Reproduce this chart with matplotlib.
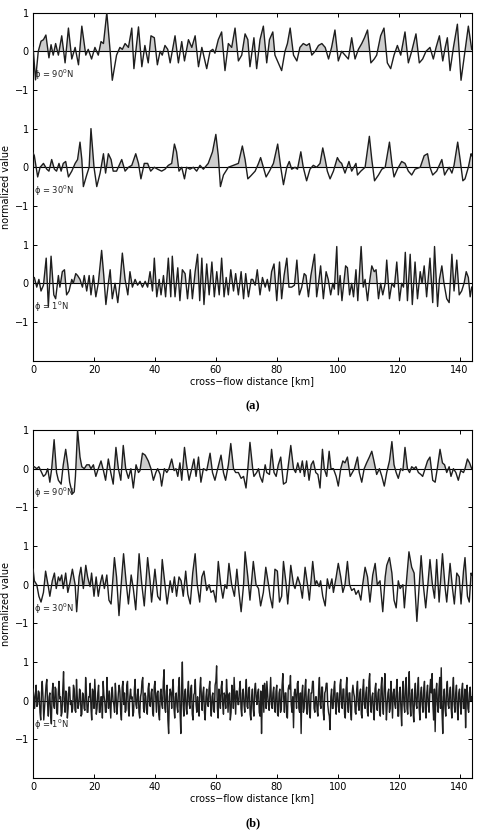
import numpy as np
import matplotlib
matplotlib.use("Agg")
import matplotlib.pyplot as plt

# ---------------- data ----------------
# panel (a), phi = 90N
a90_km = [0, 0.8, 1.7, 2.6, 3.4, 4.2, 5.2, 5.9, 6.6, 7.4, 8.3, 9.4, 10.5, 11.6, 12.7, 13.8, 14.9, 16.0, 17.3, 18.1,
          19.2, 20.3, 21.4, 22.3, 23.1, 24.2, 25.3, 26.0, 27.4, 28.5, 29.3, 30.2, 31.3, 32.4, 33.1, 34.6, 35.7, 36.7,
          37.8, 38.7, 39.8, 40.8, 41.7, 42.4, 43.3, 44.2, 45.0, 46.6, 47.7, 48.8, 49.7, 51.0, 52.1, 53.2, 54.3, 55.4,
          57.0, 58.1, 59.0, 59.7, 60.8, 61.9, 63.0, 64.1, 65.2, 66.3, 67.4, 68.5, 69.6, 70.5, 71.2, 72.5, 73.4, 74.5,
          75.6, 76.7, 77.6, 78.7, 79.4, 80.5, 81.6, 82.7, 83.5, 84.4, 85.5, 86.6, 87.6, 88.7, 89.8, 90.7, 91.5, 92.6,
          93.7, 94.8, 95.9, 97.0, 98.0, 99.1, 100.2, 101.3, 102.4, 103.5, 104.6, 105.7, 106.8, 107.9, 108.8, 109.8,
          110.9, 112.0, 112.8, 114.1, 115.2, 116.3, 117.4, 118.5, 119.6, 120.7, 122.1, 123.2, 124.3, 125.7, 126.8,
          127.9, 129.0, 130.3, 131.4, 132.3, 133.4, 134.5, 135.3, 136.0, 136.9, 138.0, 139.3, 140.5, 141.8, 142.9, 144.0]
a90_val = [0.1, -0.74, 0.0, 0.26, 0.3, 0.42, -0.17, 0.17, -0.1, 0.2, -0.1, 0.4, -0.3, 0.6, -0.2, 0.1, -0.35, 0.65, -0.1, 0.05,
           -0.2, 0.1, -0.1, 0.25, 0.2, 1.0, 0.0, -0.75, -0.1, 0.1, 0.05, 0.2, 0.1, 0.6, -0.45, 0.63, -0.4, 0.15,
           -0.3, 0.4, 0.35, -0.35, 0.0, -0.1, 0.15, 0.05, -0.3, 0.4, -0.3, 0.25, -0.25, 0.3, 0.1, 0.4, -0.4, 0.1,
           -0.45, 0.0, 0.05, -0.05, 0.3, 0.5, -0.5, 0.2, 0.1, 0.6, -0.25, -0.1, 0.45, 0.3, -0.4, 0.35, -0.45, 0.3,
           0.65, -0.3, 0.3, 0.5, -0.1, -0.3, -0.5, 0.0, 0.2, 0.6, -0.1, -0.25, 0.1, 0.2, 0.15, 0.2, -0.1, 0.0,
           0.15, 0.2, 0.1, -0.2, 0.1, 0.55, -0.25, 0.0, -0.1, -0.2, 0.35, -0.2, 0.05, 0.2, 0.35, 0.55,
           -0.3, -0.2, -0.1, 0.4, 0.6, -0.3, -0.45, -0.1, 0.15, -0.1, 0.5, -0.3, 0.0, 0.45, -0.3,
           -0.2, 0.0, 0.1, -0.2, 0.1, 0.4, -0.25, 0.1, 0.35, -0.5, 0.1, 0.7, -0.75, 0.0, 0.65, 0.05]

# panel (a), phi = 30N
a30_km = [0, 0.4, 1.5, 2.3, 3.4, 4.5, 5.2, 6.1, 7.0, 7.7, 8.5, 9.2, 9.9, 10.7, 11.6, 12.7, 13.8, 14.6, 15.4, 16.0,
          16.5, 17.6, 18.4, 19.0, 20.0, 20.9, 22.0, 23.1, 23.8, 24.7, 25.6, 26.3, 27.4, 29.1, 30.2, 31.3, 32.4, 33.7,
          34.6, 35.4, 36.5, 37.6, 38.6, 39.8, 40.9, 42.2, 43.3, 44.4, 45.5, 46.4, 47.1, 47.9, 48.8, 49.7, 50.4, 51.5,
          52.6, 53.7, 54.8, 55.9, 57.5, 58.9, 60.0, 60.8, 61.5, 62.5, 64.1, 65.8, 67.4, 68.7, 69.6, 70.5, 71.5, 72.9,
          74.0, 74.7, 75.6, 76.5, 77.6, 78.9, 80.3, 81.3, 82.2, 83.3, 84.1, 84.9, 86.0, 86.8, 87.9, 88.7, 89.8, 90.9,
          92.0, 93.1, 94.2, 95.1, 95.9, 96.6, 97.5, 98.6, 99.9, 100.6, 101.3, 102.4, 103.7, 104.6, 106.0, 106.5, 107.6,
          109.0, 110.4, 111.2, 112.1, 113.4, 114.5, 115.6, 117.0, 117.8, 118.5, 119.6, 121.0, 122.1, 123.2, 124.3,
          125.4, 127.1, 128.4, 129.5, 130.3, 131.2, 132.5, 134.2, 135.1, 135.8, 136.6, 137.5, 138.2, 139.4, 140.2,
          141.1, 141.8, 142.9, 143.8, 144.0]
a30_val = [0.37, 0.3, -0.25, 0.0, 0.1, -0.05, -0.1, 0.2, -0.05, -0.1, 0.1, -0.1, 0.1, 0.15, -0.25, -0.1, 0.1, 0.2, 0.65, 0.2,
           -0.5, -0.2, 0.0, 1.0, 0.0, -0.5, -0.15, 0.35, -0.15, 0.35, 0.2, -0.1, -0.1, 0.2, -0.1, 0.0, 0.05, 0.35,
           0.1, -0.3, 0.1, 0.1, -0.1, 0.0, -0.05, -0.1, -0.05, 0.05, 0.1, 0.6, 0.4, -0.1, 0.0, -0.3, 0.0, -0.05,
           0.0, -0.1, 0.05, -0.05, 0.1, 0.4, 0.85, 0.3, -0.5, -0.2, 0.0, 0.05, 0.1, 0.55, 0.2, -0.3, -0.22, -0.1,
           0.1, 0.25, 0.0, -0.25, -0.1, 0.1, 0.6, 0.0, -0.45, 0.0, 0.15, -0.05, 0.0, -0.05, 0.4, 0.0, -0.35, -0.05,
           0.05, 0.0, 0.1, 0.5, 0.2, -0.1, -0.3, -0.1, 0.25, 0.15, 0.1, -0.15, 0.15, -0.1, 0.1, -0.2, -0.1,
           0.0, 0.8, 0.2, -0.35, -0.2, -0.05, 0.0, 0.65, 0.1, -0.25, -0.05, 0.15, 0.1, -0.1, -0.2,
           -0.05, 0.0, 0.3, 0.35, 0.0, -0.2, -0.1, 0.2, -0.2, -0.1, 0.0, -0.15, 0.05, 0.65, 0.2,
           -0.35, -0.3, 0.0, 0.35, 0.3]

# panel (a), phi = 1N
a1_km = [0, 0.4, 1.2, 1.9, 2.6, 3.4, 4.3, 5.0, 5.9, 6.8, 7.4, 8.3, 8.8, 9.6, 10.3, 11.0, 11.8, 12.7, 13.2, 14.0,
         14.6, 15.4, 16.2, 16.8, 17.6, 18.4, 19.0, 19.8, 20.6, 21.4, 22.5, 23.2, 23.9, 24.7, 25.3, 26.0, 26.9, 27.8,
         28.5, 29.3, 30.2, 31.1, 31.8, 32.6, 33.5, 34.3, 35.1, 35.9, 36.8, 37.6, 38.4, 39.2, 39.8, 40.6, 41.4, 42.0,
         42.8, 43.5, 44.4, 45.2, 45.7, 46.6, 47.5, 48.2, 49.0, 49.9, 50.7, 51.6, 52.3, 53.2, 54.0, 54.7, 55.4, 56.1,
         57.0, 57.8, 58.7, 59.5, 60.3, 61.1, 61.9, 62.7, 63.4, 64.1, 64.9, 65.8, 66.5, 67.4, 68.3, 69.1, 69.8, 70.7,
         71.6, 72.1, 72.9, 73.6, 74.5, 75.3, 76.2, 76.9, 77.6, 78.3, 79.1, 80.0, 80.9, 81.6, 82.4, 83.3, 84.0, 84.9,
         85.8, 86.6, 87.4, 88.2, 89.0, 89.6, 90.4, 91.2, 92.4, 93.1, 93.7, 94.4, 95.3, 96.2, 96.9, 97.7, 98.4, 98.9,
         99.7, 100.2, 100.8, 101.4, 102.6, 103.2, 103.9, 104.6, 105.2, 106.0, 106.6, 107.7, 108.4, 109.0, 109.8,
         110.4, 111.2, 112.0, 112.6, 113.4, 114.1, 114.8, 115.6, 116.1, 117.0, 117.8, 118.6, 119.4, 120.3, 121.0,
         121.6, 122.2, 122.9, 123.8, 124.5, 125.4, 126.2, 127.1, 127.7, 128.4, 129.2, 130.3, 131.2, 131.8, 132.8,
         133.4, 134.2, 134.9, 135.8, 136.6, 137.5, 138.2, 139.1, 139.9, 140.7, 141.5, 142.2, 142.9, 143.5, 144.0]
a1_val = [0.1, 0.15, -0.1, 0.1, -0.2, -0.05, 0.65, -0.6, 0.7, -0.3, -0.4, 0.2, -0.1, 0.3, 0.35, -0.3, -0.2, 0.1, 0.0, 0.25,
          0.2, 0.1, -0.1, 0.2, -0.2, 0.2, -0.3, 0.2, -0.35, 0.0, 0.85, 0.2, -0.55, 0.0, 0.35, -0.4, 0.0, -0.5,
          0.0, 0.78, 0.1, -0.3, 0.3, -0.1, 0.1, -0.05, 0.05, -0.1, 0.05, -0.1, 0.3, -0.2, 0.65, -0.35, 0.1, -0.3,
          0.2, -0.35, 0.65, -0.35, 0.7, -0.35, 0.4, -0.45, 0.35, 0.25, -0.4, 0.35, -0.4, 0.3, 0.75, -0.45, 0.65, -0.55,
          0.5, -0.3, 0.55, -0.35, 0.3, -0.3, 0.65, -0.35, 0.15, -0.3, 0.35, -0.2, 0.25, -0.3, 0.3, -0.4, 0.25, -0.35,
          0.1, 0.1, -0.05, 0.35, -0.3, 0.15, -0.1, 0.1, -0.2, 0.3, 0.5, -0.45, 0.55, -0.4, 0.2, 0.65, -0.1, -0.1,
          -0.05, 0.6, -0.3, -0.1, 0.25, 0.2, -0.35, 0.2, 0.75, -0.35, 0.0, 0.45, -0.4, 0.3, 0.1, -0.3, 0.0, -0.15,
          0.95, -0.3, 0.2, -0.45, 0.45, 0.4, -0.3, 0.0, -0.35, 0.35, -0.45, 0.95, -0.1, 0.1, -0.45,
          0.0, 0.45, 0.3, 0.35, -0.4, 0.0, -0.3, 0.0, 0.6, -0.4, 0.0, -0.1, 0.55, -0.45, 0.0,
          -0.1, 0.8, -0.45, 0.75, -0.55, 0.55, -0.4, 0.3, 0.0, 0.45, -0.35, 0.65, -0.5, 0.95, -0.6,
          0.1, 0.45, 0.0, -0.4, -0.5, 0.75, -0.2, 0.6, -0.3, -0.2, 0.0, 0.3, 0.15, -0.35, -0.1]

# panel (b), phi = 90N
b90_km = [0, 0.4, 1.2, 1.9, 2.8, 3.4, 4.1, 4.8, 5.5, 6.1, 6.9, 7.7, 8.3, 9.2, 9.9, 10.7, 11.4, 12.0, 12.9, 13.5,
          13.9, 14.6, 15.4, 16.0, 16.8, 17.6, 18.4, 19.0, 19.8, 20.6, 21.4, 22.3, 23.1, 23.8, 24.7, 25.5, 26.3, 27.2,
          28.0, 28.8, 29.6, 30.4, 31.3, 32.1, 32.9, 33.8, 34.6, 35.1, 35.9, 36.8, 37.8, 38.7, 39.5, 40.3, 40.9, 41.7,
          42.2, 43.1, 43.9, 44.6, 45.5, 46.3, 46.9, 47.5, 48.2, 48.8, 49.7, 50.4, 51.2, 52.1, 52.8, 53.5, 54.3, 55.1,
          55.9, 57.0, 58.1, 58.9, 59.7, 60.6, 61.7, 62.5, 63.2, 64.1, 64.9, 65.8, 66.5, 67.4, 68.3, 69.1, 69.9, 70.5,
          71.2, 72.1, 72.5, 73.4, 74.0, 74.5, 75.3, 76.2, 76.7, 77.6, 78.3, 79.1, 79.8, 80.5, 81.3, 82.2, 83.1, 83.8,
          84.6, 85.5, 86.2, 86.9, 87.7, 88.4, 89.1, 89.8, 90.6, 91.3, 92.0, 92.8, 93.5, 94.2, 95.0, 95.6, 96.4, 97.2,
          97.8, 98.6, 99.5, 100.2, 101.0, 101.7, 102.4, 103.2, 104.1, 104.8, 105.5, 106.5, 107.1, 107.9, 108.7, 109.5,
          110.4, 111.2, 111.9, 112.8, 113.7, 114.5, 115.3, 116.1, 117.0, 117.8, 118.5, 119.2, 119.9, 120.7, 121.4,
          122.1, 122.9, 123.6, 124.3, 125.1, 125.7, 126.5, 127.3, 127.9, 128.7, 129.5, 130.3, 131.2, 132.0, 132.7,
          133.6, 134.4, 135.1, 135.8, 136.6, 137.2, 138.0, 138.8, 139.6, 140.4, 141.3, 141.8, 142.6, 143.3, 144.0]
b90_val = [0.05, 0.05, 0.0, 0.05, -0.1, -0.2, -0.15, 0.0, -0.35, 0.0, 0.75, -0.1, -0.3, -0.4, 0.1, 0.5, 0.1, -0.35, -0.65, -0.6,
           -0.2, 1.0, 0.3, 0.05, 0.0, 0.1, 0.1, 0.0, 0.1, -0.2, 0.0, 0.2, -0.05, -0.3, 0.25, -0.1, -0.4, 0.55,
           0.0, -0.3, 0.6, 0.0, -0.25, 0.0, -0.5, 0.1, -0.1, -0.05, 0.4, 0.35, 0.2, 0.0, -0.3, -0.1, 0.0, -0.15,
           -0.45, 0.0, -0.1, 0.0, 0.25, -0.05, 0.0, -0.2, 0.15, -0.3, 0.55, 0.1, -0.3, 0.0, 0.25, -0.2, 0.3, -0.35,
           0.0, -0.05, 0.4, -0.1, -0.3, 0.0, 0.35, -0.1, -0.3, 0.1, 0.65, 0.0, -0.1, -0.1, -0.25, -0.2, -0.5, 0.0,
           0.68, 0.0, -0.2, -0.1, 0.0, -0.2, -0.35, 0.1, -0.1, -0.15, 0.5, -0.1, -0.2, 0.1, 0.3, -0.4, -0.35, 0.1,
           0.6, 0.0, -0.1, 0.15, -0.1, 0.2, -0.2, 0.2, -0.3, 0.1, 0.2, -0.1, -0.15, -0.5, 0.5, 0.0, -0.2, 0.45,
           0.0, 0.0, -0.2, -0.45, 0.0, 0.2, 0.15, 0.3, -0.2, -0.1, 0.0, 0.3, -0.1, -0.35, 0.0, 0.15,
           0.3, 0.45, 0.2, -0.15, 0.0, -0.2, -0.45, -0.1, 0.2, 0.7, 0.1, -0.1, -0.25, 0.0, -0.05,
           0.55, 0.0, -0.1, 0.05, 0.0, 0.05, -0.1, -0.15, -0.2, 0.0, 0.2, 0.3, -0.3, -0.35, 0.0,
           0.5, 0.15, 0.1, -0.1, 0.05, -0.2, 0.0, -0.1, -0.3, -0.05, -0.1, 0.0, 0.25, 0.15, 0.0]

# panel (b), phi = 30N
b30_km = [0, 0.4, 1.2, 1.9, 2.6, 3.4, 4.1, 5.0, 5.5, 6.3, 7.0, 7.6, 8.3, 8.8, 9.4, 9.9, 10.7, 11.4, 12.1, 12.9,
          13.8, 14.3, 15.1, 15.7, 16.5, 17.3, 17.9, 18.7, 19.2, 20.0, 20.7, 21.4, 22.1, 22.7, 23.4, 24.2, 24.9, 25.6,
          26.7, 27.4, 28.2, 29.1, 29.7, 30.5, 31.3, 32.2, 32.9, 33.7, 34.8, 35.7, 36.5, 37.6, 38.4, 38.9, 40.0, 40.9,
          41.7, 42.4, 43.3, 44.0, 45.0, 45.7, 46.4, 47.1, 47.9, 48.6, 49.3, 50.1, 50.8, 51.6, 52.4, 53.2, 53.9, 54.7,
          55.4, 56.1, 57.0, 57.8, 58.4, 59.2, 60.0, 60.8, 61.6, 62.3, 63.0, 63.6, 64.3, 65.2, 66.1, 66.9, 67.6, 68.3,
          69.1, 69.6, 70.5, 71.2, 72.3, 73.2, 74.0, 74.7, 75.6, 76.4, 77.3, 77.8, 78.6, 79.4, 80.2, 80.9, 81.6, 82.2,
          83.1, 83.6, 84.6, 85.5, 86.0, 86.9, 87.7, 88.4, 89.3, 90.1, 90.7, 91.8, 92.6, 93.1, 93.9, 94.4, 95.1, 95.9,
          96.6, 97.3, 98.1, 98.6, 99.5, 100.2, 101.0, 101.7, 102.4, 103.2, 103.9, 104.6, 105.4, 106.0, 106.8, 107.6,
          108.2, 109.0, 109.8, 110.6, 111.5, 112.3, 113.0, 113.9, 114.8, 115.6, 116.1, 117.0, 117.8, 118.5, 119.2,
          119.9, 120.5, 121.4, 121.9, 122.7, 123.4, 124.3, 125.1, 126.0, 126.8, 127.4, 128.1, 128.9, 129.6, 130.3,
          131.1, 131.8, 132.5, 133.3, 134.4, 135.3, 135.8, 136.9, 137.7, 138.3, 139.1, 139.9, 140.5, 141.3, 141.8,
          142.6, 143.2, 143.8, 144.0]
b30_val = [0.4, 0.1, 0.0, -0.3, -0.45, -0.2, 0.35, -0.05, -0.3, 0.1, 0.3, -0.1, 0.2, 0.1, 0.25, -0.1, 0.3, -0.2, 0.05, 0.4,
           0.0, -0.7, 0.2, 0.45, -0.1, 0.5, 0.2, -0.05, 0.3, -0.3, 0.2, -0.3, 0.05, 0.25, -0.1, 0.25, -0.4, -0.5,
           0.7, 0.2, -0.8, 0.2, 0.8, 0.1, -0.5, 0.25, -0.1, -0.65, 0.8, 0.0, -0.55, 0.7, 0.1, -0.45, 0.4, -0.3,
           -0.4, 0.65, 0.0, -0.5, 0.1, -0.2, 0.2, -0.3, 0.2, 0.1, -0.3, 0.35, -0.25, -0.5, 0.3, 0.8, 0.0, -0.45,
           0.2, 0.35, -0.15, 0.0, -0.2, -0.15, -0.45, 0.6, 0.0, -0.35, 0.0, -0.1, 0.55, 0.0, -0.3, 0.4, -0.2, -0.7,
           0.0, 0.85, 0.2, -0.4, 0.6, 0.0, -0.1, -0.55, -0.2, 0.45, 0.0, -0.3, -0.6, 0.4, 0.35, -0.45, -0.3, 0.6,
           0.0, -0.5, 0.5, 0.0, -0.1, 0.2, 0.0, -0.35, 0.45, 0.0, -0.4, 0.6, 0.0, 0.1, -0.05, 0.1, -0.3, -0.55,
           0.15, -0.1, 0.15, -0.2, 0.2, 0.55, 0.2, -0.2, 0.0, 0.6, 0.0, -0.15, -0.1, -0.25, -0.15, -0.4,
           0.0, 0.45, 0.2, -0.45, 0.25, 0.55, 0.0, 0.1, -0.7, 0.2, 0.5, 0.7, 0.3, -0.4, -0.6,
           0.1, -0.1, 0.0, -0.6, 0.2, 0.85, 0.45, 0.3, -0.95, 0.0, 0.75, 0.0, -0.6, 0.0, 0.65,
           0.0, -0.35, 0.65, -0.45, 0.8, -0.1, -0.45, 0.55, -0.1, -0.5, 0.3, 0.2, -0.5, 0.35, 0.7,
           -0.3, -0.45, 0.3, 0.25]

# panel (b), phi = 1N  (one value every 0.25 km)
b1_step_km = 0.25
b1_val = [
    0.3, 0.1, -0.2, 0.15, 0.4, -0.15, -0.1, 0.25, 0.2, -0.3, -0.5, 0.2, 0.5, 0.1, -0.5, -0.2, 0.1, 0.4, 0.55, -0.1, -0.4, 0.1, 0.2, -0.35,
    -0.6, 0.2, 0.45, -0.1, -0.2, 0.35, 0.3, -0.3, -0.35, 0.2, 0.5, 0.05, 0.1, -0.4, -0.3, 0.3, 0.75, -0.1, -0.3, 0.25, 0.2, -0.45, -0.2, 0.35,
    0.35, -0.1, 0.0, -0.3, -0.2, 0.4, 0.3, -0.25, -0.3, 0.55, 0.1, -0.2, -0.1, 0.3, 0.25, -0.4, -0.35, 0.2, 0.15, -0.2, -0.25, 0.6, 0.2, -0.3,
    -0.3, 0.1, 0.1, 0.45, -0.2, -0.5, 0.3, 0.2, -0.2, 0.55, 0.1, -0.35, -0.2, 0.2, 0.4, -0.3, -0.3, 0.1, 0.1, -0.45, 0.5, 0.15, 0.0, -0.3,
    -0.3, 0.6, 0.1, -0.2, 0.25, -0.1, -0.45, 0.2, 0.35, 0.0, -0.1, -0.3, 0.45, 0.1, -0.35, -0.1, 0.2, 0.4, 0.25, -0.3, -0.5, 0.35, 0.5, -0.1,
    0.2, -0.3, -0.25, 0.4, 0.5, -0.2, -0.4, 0.1, 0.3, 0.05, 0.1, -0.4, -0.3, 0.3, 0.55, -0.1, -0.2, 0.15, 0.3, -0.3, -0.45, 0.1, 0.2, 0.5,
    0.6, -0.2, -0.3, 0.2, 0.1, -0.25, -0.35, 0.3, 0.45, -0.1, -0.15, 0.2, 0.3, -0.3, -0.4, 0.35, 0.5, 0.1, -0.3, 0.2, 0.25, -0.35, -0.5, 0.2,
    0.3, -0.1, -0.2, 0.5, 0.8, -0.2, -0.3, 0.25, 0.4, -0.5, -0.85, 0.1, 0.3, 0.2, -0.2, 0.3, 0.55, -0.2, -0.45, 0.1, 0.2, -0.15, -0.3, 0.35,
    0.6, -0.3, -0.85, 0.3, 1.0, -0.1, -0.4, 0.2, 0.3, -0.2, -0.35, 0.25, 0.5, -0.1, -0.2, 0.3, 0.4, -0.35, -0.5, 0.15, 0.2, 0.55, -0.1, -0.3,
    0.1, -0.2, -0.4, 0.3, 0.6, 0.1, -0.25, 0.2, 0.35, -0.3, -0.5, 0.1, 0.3, -0.1, -0.15, 0.3, 0.5, -0.1, -0.4, 0.1, 0.2, -0.25, -0.3, 0.4,
    0.5, 0.9, -0.2, -0.45, 0.3, 0.1, -0.2, 0.35, 0.5, -0.1, -0.35, 0.2, 0.1, -0.2, 0.55, 0.2, -0.3, 0.15, 0.2, -0.5, -0.3, 0.4, 0.25, -0.2,
    0.6, 0.1, -0.35, 0.25, 0.25, -0.1, -0.1, 0.3, 0.5, -0.2, -0.4, 0.2, 0.3, -0.1, -0.3, 0.2, 0.55, -0.15, -0.2, 0.3, 0.35, -0.35, -0.5, 0.1,
    0.3, -0.2, -0.4, 0.3, 0.45, 0.1, -0.1, 0.2, 0.3, -0.3, -0.4, 0.25, -0.85, 0.05, 0.4, -0.3, 0.45, 0.2, -0.2, 0.5, 0.2, -0.1, -0.25, 0.2,
    0.6, -0.1, -0.2, 0.2, 0.35, -0.2, -0.3, 0.25, 0.4, -0.35, -0.4, 0.2, 0.3, -0.3, -0.2, 0.4, 0.7, 0.1, -0.3, 0.2, 0.2, -0.4, -0.45, 0.3,
    0.4, 0.3, 0.65, -0.1, -0.3, 0.1, -0.7, 0.2, 0.3, 0.1, -0.2, 0.45, 0.5, -0.2, -0.3, 0.2, -0.85, 0.2, 0.4, -0.3, -0.2, 0.3, 0.55, -0.2,
    -0.35, 0.1, 0.3, -0.3, -0.45, 0.2, 0.2, 0.5, 0.5, -0.2, -0.3, 0.1, 0.1, -0.25, -0.4, 0.3, 0.6, -0.1, -0.2, 0.35, 0.35, -0.3, -0.5, 0.2,
    0.25, 0.45, 0.45, -0.1, -0.3, -0.4, -0.75, 0.1, 0.3, -0.2, -0.2, 0.3, 0.5, -0.1, -0.35, 0.2, 0.2, -0.15, -0.3, 0.4, 0.55, -0.1, -0.2, 0.3,
    0.3, -0.35, -0.45, 0.3, 0.6, -0.1, -0.3, 0.2, 0.2, -0.3, -0.5, 0.2, 0.4, 0.2, 0.1, -0.3, -0.35, 0.3, 0.5, -0.1, -0.25, 0.2, 0.3, -0.35,
    -0.45, 0.3, 0.55, -0.1, -0.2, 0.2, 0.35, -0.3, -0.4, 0.5, 0.7, -0.1, -0.3, 0.1, 0.2, -0.3, -0.5, 0.3, 0.45, -0.1, -0.25, 0.2, 0.3, -0.3,
    -0.4, 0.35, 0.6, -0.1, -0.35, 0.3, 0.7, 0.1, -0.5, -0.1, 0.2, 0.3, -0.3, -0.2, 0.5, 0.1, -0.45, 0.2, 0.3, -0.1, -0.2, 0.3, 0.55, -0.4,
    -0.4, 0.2, 0.35, -0.2, -0.65, 0.2, 0.5, -0.1, -0.3, 0.4, 0.6, -0.2, -0.35, 0.3, 0.75, -0.1, -0.4, 0.2, 0.3, -0.3, -0.55, 0.2, 0.45, -0.1,
    -0.2, 0.3, 0.6, -0.2, -0.5, 0.2, 0.35, -0.1, -0.3, 0.3, 0.5, -0.2, -0.45, 0.2, 0.4, -0.1, -0.3, 0.3, 0.55, 0.2, 0.7, -0.1, -0.5, 0.3,
    -0.8, 0.2, 0.45, -0.1, -0.3, 0.3, 0.6, -0.2, 0.85, -0.3, -0.85, 0.1, 0.3, -0.2, -0.4, 0.3, 0.5, -0.1, -0.2, 0.2, 0.35, -0.2, -0.45, 0.3,
    0.6, -0.1, -0.3, 0.2, 0.4, -0.2, -0.5, 0.2, 0.3, -0.1, -0.35, 0.3, 0.45, -0.2, -0.2, 0.3, -0.7, 0.1, 0.4, -0.2, -0.3, 0.2, 0.35, 0.0,
    0.1]

trace_labels = ["ϕ = 90$^0$N", "ϕ = 30$^0$N", "ϕ = 1$^0$N"]
offsets = [6, 3, 0]
ytick_labels = ["−1", "0", "1"] * 3
xticks = [0, 20, 40, 60, 80, 100, 120, 140]
panel_names = ["(a)", "(b)"]

# ---------------- figure ----------------
W, H = 481, 833
fig = plt.figure(figsize=(W / 100, H / 100), dpi=100)

line_color = "#1e1e1e"
fill_color = "#cdcdcd"


def draw_panel(ax, traces):
    for (xs, ys), off, lab in zip(traces, offsets, trace_labels):
        xs = np.asarray(xs, float)
        ys = np.asarray(ys, float)
        ax.fill_between(xs, off, ys + off, where=ys > 0, interpolate=True,
                        color=fill_color, linewidth=0, zorder=1)
        ax.axhline(off, color="black", linewidth=0.8, zorder=2)
        ax.plot(xs, ys + off, color=line_color, linewidth=1.0, zorder=3)
        ax.text(0.4, off - 0.62, lab, fontsize=6, color="#222222",
                ha="left", va="center", zorder=4)
    ax.set_xlim(0, 144)
    ax.set_ylim(-2, 7)
    ax.set_yticks(np.arange(-1, 8))
    ax.set_yticklabels(ytick_labels)
    ax.set_xticks(xticks)
    ax.tick_params(direction="in", top=True, right=True, labelsize=7,
                   length=3, width=0.7, pad=3)
    for s in ax.spines.values():
        s.set_linewidth(0.8)
    ax.set_xlabel("cross\u2212flow distance [km]", fontsize=7, labelpad=1)
    ax.set_ylabel("normalized value", fontsize=7, labelpad=3)


left = 33.1 / W
width = 438.6 / W
ax_h = 348.0 / H

ax_a = fig.add_axes([left, 1 - 360.6 / H, width, ax_h])
b1_km = np.arange(len(b1_val)) * b1_step_km
draw_panel(ax_a, [(a90_km, a90_val), (a30_km, a30_val), (a1_km, a1_val)])

ax_b = fig.add_axes([left, 1 - 778.0 / H, width, ax_h])
draw_panel(ax_b, [(b90_km, b90_val), (b30_km, b30_val), (b1_km, b1_val)])

fig.text(253 / W, 1 - 406 / H, panel_names[0], fontsize=9, fontweight="bold",
         family="Liberation Serif", ha="center", va="center")
fig.text(253 / W, 1 - 823 / H, panel_names[1], fontsize=9, fontweight="bold",
         family="Liberation Serif", ha="center", va="center")

fig.savefig("out.png", dpi=100)
